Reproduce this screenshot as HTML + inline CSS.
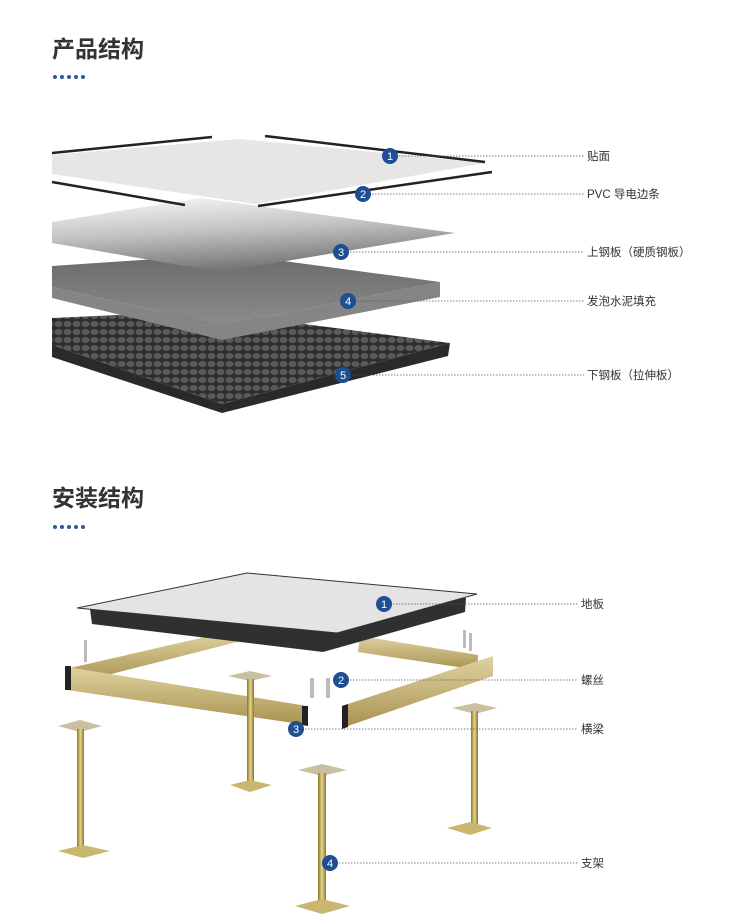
<!DOCTYPE html>
<html><head><meta charset="utf-8"><style>
html,body{margin:0;padding:0;background:#fff;}
body{width:750px;height:924px;position:relative;overflow:hidden;font-family:"Liberation Sans","Noto Sans CJK SC",sans-serif;}
.t{position:absolute;left:52px;font-size:23px;font-weight:bold;color:#333;}
.lab{position:absolute;font-size:11.5px;color:#333;white-space:nowrap;}
</style></head><body>
<div class="t" style="top:30px">产品结构</div>
<div class="t" style="top:479px">安装结构</div>
<svg width="750" height="924" style="position:absolute;left:0;top:0">
<defs>
<linearGradient id="g3" x1="0" y1="0" x2="0.3" y2="1"><stop offset="0" stop-color="#fafafa"/><stop offset="0.5" stop-color="#c4c4c4"/><stop offset="1" stop-color="#767676"/></linearGradient>
<linearGradient id="g4" x1="0" y1="0" x2="0" y2="1"><stop offset="0" stop-color="#6a6a6a"/><stop offset="1" stop-color="#8c8c8c"/></linearGradient>
<linearGradient id="gold" x1="0" y1="0" x2="0" y2="1"><stop offset="0" stop-color="#e0d2a0"/><stop offset="1" stop-color="#a89250"/></linearGradient>
<linearGradient id="goldv" x1="0" y1="0" x2="1" y2="0"><stop offset="0" stop-color="#8a7530"/><stop offset="0.5" stop-color="#e8d68a"/><stop offset="1" stop-color="#8a7530"/></linearGradient>
<pattern id="dots" width="9" height="8" patternUnits="userSpaceOnUse"><rect width="9" height="8" fill="#2e2e2e"/><ellipse cx="4.5" cy="4" rx="4" ry="3" fill="#5a5a5a"/></pattern>
</defs>
<g fill="#2a5a9a"><circle cx="55" cy="77" r="2"/><circle cx="62" cy="77" r="2"/><circle cx="69" cy="77" r="2"/><circle cx="76" cy="77" r="2"/><circle cx="83" cy="77" r="2"/>
<circle cx="55" cy="527" r="2"/><circle cx="62" cy="527" r="2"/><circle cx="69" cy="527" r="2"/><circle cx="76" cy="527" r="2"/><circle cx="83" cy="527" r="2"/></g>

<polygon points="52,318 205,311 450,343 222,404 52,345" fill="url(#dots)"/>
<polygon points="52,345 222,404 450,343 448,356 222,413 52,357" fill="#2a2a2a"/>
<polygon points="52,266 232,254 440,282 222,326 52,287" fill="url(#g4)"/>
<polygon points="52,287 222,326 440,282 440,297 222,340 52,298" fill="#858585"/>
<polygon points="52,222 200,198 455,233 220,272 52,243" fill="url(#g3)"/>
<polygon points="52,155 240,139 485,163 255,204 52,174" fill="#e6e6e6"/>
<g stroke="#222" stroke-width="2.5"><line x1="52" y1="153" x2="212" y2="137"/><line x1="265" y1="136" x2="485" y2="162"/><line x1="52" y1="182" x2="185" y2="205"/><line x1="258" y1="206" x2="492" y2="172"/></g>

<polygon points="70,668 227,632 237,642 80,682" fill="url(#gold)"/>
<polygon points="360,636 478,655 478,670 358,652" fill="url(#gold)"/>
<g fill="#bbb"><rect x="84" y="640" width="3" height="22"/><rect x="463" y="630" width="3" height="18"/><rect x="469" y="633" width="3" height="18"/><rect x="310" y="678" width="4" height="20"/><rect x="326" y="678" width="4" height="20"/></g>
<polygon points="90,609 92,624 323,652 465,612 466,598" fill="#303030"/>
<polygon points="77,608 247,573 477,594 337,633" fill="#e4e4e4" stroke="#333" stroke-width="1"/>
<polygon points="67,667 307,706 307,725 67,690" fill="url(#gold)"/>
<rect x="65" y="666" width="6" height="24" fill="#222"/><polygon points="302,706 308,706 308,726 302,725" fill="#222"/>
<polygon points="342,706 493,656 493,676 342,728" fill="url(#gold)"/>
<polygon points="342,706 348,704 348,727 342,729" fill="#222"/>
<g>
<polygon points="228,676 250,671 272,676 250,681" fill="#c8c0a0"/><rect x="247" y="679" width="7" height="106" fill="url(#goldv)"/><polygon points="230,785 250,780 272,785 250,792" fill="#c9b770"/>
<polygon points="452,708 475,703 497,708 475,714" fill="#c8c0a0"/><rect x="471" y="711" width="7" height="114" fill="url(#goldv)"/><polygon points="447,828 470,822 492,828 470,835" fill="#c9b770"/>
<polygon points="58,726 80,720 102,726 80,732" fill="#c8c0a0"/><rect x="77" y="729" width="7" height="122" fill="url(#goldv)"/><polygon points="58,851 83,845 110,851 83,858" fill="#c9b770"/>
<polygon points="298,770 322,764 347,770 322,776" fill="#c8c0a0"/><rect x="318" y="773" width="8" height="132" fill="url(#goldv)"/><polygon points="295,906 322,899 350,906 322,914" fill="#c9b770"/>
</g>

<g stroke="#555" stroke-width="0.8" stroke-dasharray="1.5,1.5">
<line x1="390" y1="156" x2="584" y2="156"/><line x1="363" y1="194" x2="584" y2="194"/><line x1="341" y1="252" x2="584" y2="252"/><line x1="348" y1="301" x2="584" y2="301"/><line x1="343" y1="375" x2="584" y2="375"/>
<line x1="384" y1="604" x2="578" y2="604"/><line x1="341" y1="680" x2="578" y2="680"/><line x1="296" y1="729" x2="578" y2="729"/><line x1="330" y1="863" x2="578" y2="863"/>
</g>
<g font-family="Liberation Sans,sans-serif" font-size="11" fill="#fff" text-anchor="middle">
<g fill="#1d4f91"><circle cx="390" cy="156" r="8"/><circle cx="363" cy="194" r="8"/><circle cx="341" cy="252" r="8"/><circle cx="348" cy="301" r="8"/><circle cx="343" cy="375" r="8"/>
<circle cx="384" cy="604" r="8"/><circle cx="341" cy="680" r="8"/><circle cx="296" cy="729" r="8"/><circle cx="330" cy="863" r="8"/></g>
<text x="390" y="160">1</text><text x="363" y="198">2</text><text x="341" y="256">3</text><text x="348" y="305">4</text><text x="343" y="379">5</text>
<text x="384" y="608">1</text><text x="341" y="684">2</text><text x="296" y="733">3</text><text x="330" y="867">4</text>
</g>
</svg>
<div class="lab" style="left:587px;top:148px">贴面</div>
<div class="lab" style="left:587px;top:186px">PVC 导电边条</div>
<div class="lab" style="left:587px;top:244px">上钢板（硬质钢板）</div>
<div class="lab" style="left:587px;top:293px">发泡水泥填充</div>
<div class="lab" style="left:587px;top:367px">下钢板（拉伸板）</div>
<div class="lab" style="left:581px;top:596px">地板</div>
<div class="lab" style="left:581px;top:672px">螺丝</div>
<div class="lab" style="left:581px;top:721px">横梁</div>
<div class="lab" style="left:581px;top:855px">支架</div>
</body></html>
